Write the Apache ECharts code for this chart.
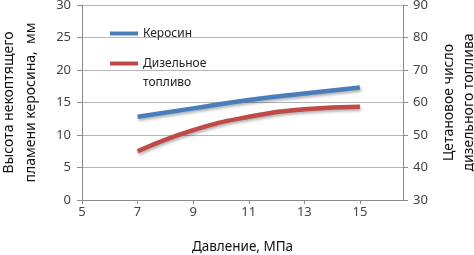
<!DOCTYPE html>
<html><head><meta charset="utf-8">
<script src="https://cdn.jsdelivr.net/npm/echarts@6/dist/echarts.min.js"></script>
<style>html,body{margin:0;padding:0;background:#fff}#c{width:474px;height:255px}</style>
</head><body><div id="c"></div>
<script>
const pressure = [7, 9, 11, 13, 15];
const kerosene = [12.8, 14.1, 15.4, 16.4, 17.3];
const diesel = [45.0, 51.5, 55.6, 57.9, 58.7];
const seriesNames = ['Керосин', 'Дизельное\nтопливо'];
const xName = 'Давление, МПа';
const yLeftName = 'Высота некоптящего\nпламени керосина,  мм';
const yRightName = 'Цетановое число\nдизельного топлива';
const FONT = 'Noto Sans';
const chart = echarts.init(document.getElementById('c'));
const axisLineStyle = {color: '#8c8c8c', width: 1};
chart.setOption({
  animation: false,
  textStyle: {fontFamily: FONT},
  grid: {left: 82, right: 71, top: 5, bottom: 55, outerBoundsMode: 'none', containLabel: false},
  legend: {
    left: 105, top: 19, orient: 'vertical', itemGap: -8,
    icon: 'rect', itemWidth: 28, itemHeight: 4,
    formatter: n => n.indexOf('\n') >= 0 ? '\n' + n : n,
    textStyle: {fontSize: 12, color: '#222', fontFamily: FONT, lineHeight: 19},
    data: seriesNames
  },
  xAxis: {
    type: 'value', min: 5, max: 16.55, interval: 2,
    name: xName, nameLocation: 'middle', nameGap: 40,
    nameTextStyle: {fontSize: 13.5, color: '#111', fontFamily: FONT},
    axisLine: {lineStyle: axisLineStyle},
    axisTick: {show: true, length: 4, lineStyle: axisLineStyle},
    axisLabel: {fontSize: 13, color: '#444', margin: 6, showMaxLabel: false, fontFamily: FONT},
    splitLine: {show: false}
  },
  yAxis: [
    {
      type: 'value', min: 0, max: 30, interval: 5,
      name: yLeftName, nameLocation: 'middle', nameGap: 40, nameRotate: 90,
      nameTextStyle: {fontSize: 14, color: '#111', lineHeight: 22, fontFamily: FONT},
      axisLine: {show: true, lineStyle: axisLineStyle},
      axisTick: {show: true, length: 5, lineStyle: axisLineStyle},
      axisLabel: {fontSize: 13, color: '#444', margin: 11, fontFamily: FONT},
      splitLine: {lineStyle: {color: '#b5b5b5', width: 1}}
    },
    {
      type: 'value', min: 30, max: 90, interval: 10, position: 'right',
      name: yRightName, nameLocation: 'middle', nameGap: 32, nameRotate: 90,
      nameTextStyle: {fontSize: 14, color: '#111', lineHeight: 20, fontFamily: FONT},
      axisLine: {show: true, lineStyle: axisLineStyle},
      axisTick: {show: true, length: 5, lineStyle: axisLineStyle},
      axisLabel: {fontSize: 13, color: '#444', margin: 10, fontFamily: FONT},
      splitLine: {show: false}
    }
  ],
  series: [
    {
      name: seriesNames[0], type: 'line', yAxisIndex: 0, smooth: true, showSymbol: false, symbol: 'none',
      data: pressure.map((p, i) => [p, kerosene[i]]),
      itemStyle: {color: '#4a7ebb'},
      lineStyle: {color: '#4a7ebb', width: 4.5, shadowColor: 'rgba(0,0,0,0.3)', shadowBlur: 3, shadowOffsetX: 1, shadowOffsetY: 2}
    },
    {
      name: seriesNames[1], type: 'line', yAxisIndex: 1, smooth: true, showSymbol: false, symbol: 'none',
      data: pressure.map((p, i) => [p, diesel[i]]),
      itemStyle: {color: '#be4b48'},
      lineStyle: {color: '#be4b48', width: 4.5, shadowColor: 'rgba(0,0,0,0.3)', shadowBlur: 3, shadowOffsetX: 1, shadowOffsetY: 2}
    }
  ]
});
</script></body></html>
